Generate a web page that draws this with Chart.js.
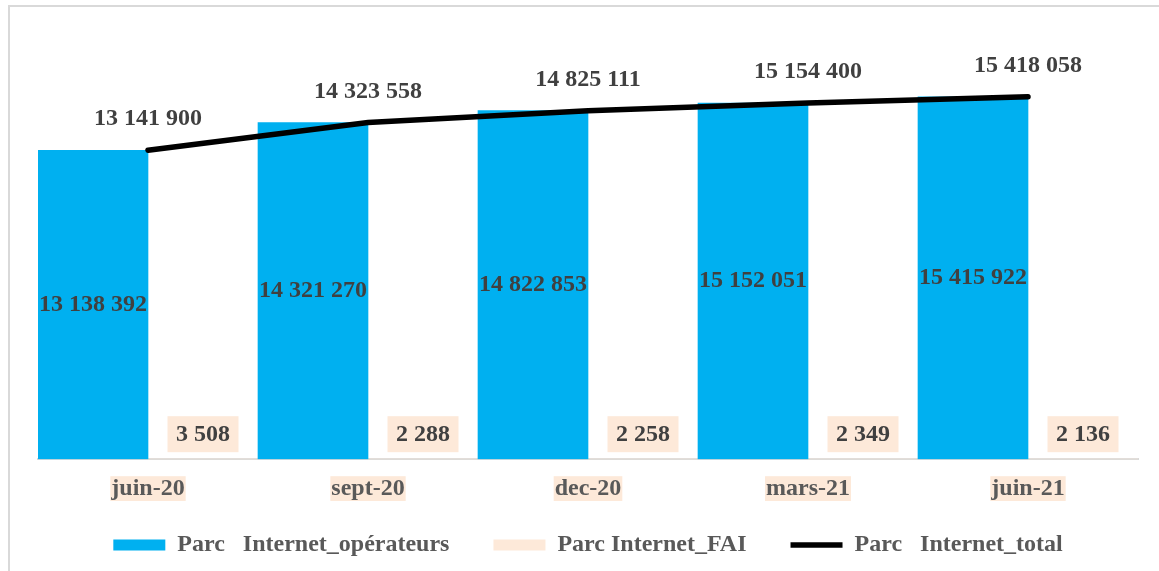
<!DOCTYPE html>
<html lang="fr">
<head>
  <meta charset="UTF-8">
  <title>Parc Internet</title>
  <script src="https://cdn.jsdelivr.net/npm/chart.js"></script>
  <style>
    body {
      margin: 0;
      background: #fff;
      width: 1159px;
      height: 571px;
      overflow: hidden;
      position: relative;
    }
    .frame {
      position: absolute;
      left: 8px;
      top: 5px;
      width: 1160px;
      height: 600px;
      border: 2px solid #d9d9d9;
    }
    canvas {
      position: absolute;
      left: 0;
      top: 0;
    }
  </style>
</head>
<body>
  <div class="frame"></div>
  <canvas id="chart" width="1159" height="571"></canvas>

  <script>
    // Data
    const categories = ['juin-20', 'sept-20', 'dec-20', 'mars-21', 'juin-21'];
    const operateurs = [13138392, 14321270, 14822853, 15152051, 15415922];
    const fai = [3508, 2288, 2258, 2349, 2136];
    const total = [13141900, 14323558, 14825111, 15154400, 15418058];

    const BLUE = '#00b0f0';
    const PEACH = '#fde9d9';
    const FONT = "'Liberation Serif', 'Times New Roman', serif";

    function fmt(v) {
      return String(v).replace(/\B(?=(\d{3})+(?!\d))/g, ' ');
    }

    // draws the value labels (no datalabels plugin available)
    const valueLabels = {
      id: 'valueLabels',
      afterDatasetsDraw(chart) {
        const ctx = chart.ctx;
        ctx.save();
        ctx.font = 'bold 24px ' + FONT;
        ctx.fillStyle = '#404040';
        ctx.textAlign = 'center';
        ctx.textBaseline = 'middle';

        chart.getDatasetMeta(0).data.forEach((el, i) => {
          ctx.fillText(fmt(operateurs[i]), el.x, (el.y + el.base) / 2);
        });

        chart.getDatasetMeta(1).data.forEach((el, i) => {
          const txt = fmt(fai[i]);
          const w = ctx.measureText(txt).width + 17;
          const y = el.base - 25;
          ctx.fillStyle = PEACH;
          ctx.fillRect(el.x - w / 2, y - 18, w, 36);
          ctx.fillStyle = '#404040';
          ctx.fillText(txt, el.x, y + 1);
        });

        chart.getDatasetMeta(2).data.forEach((el, i) => {
          ctx.fillText(fmt(total[i]), el.x, el.y - 31);
        });
        ctx.restore();
      }
    };

    new Chart(document.getElementById('chart'), {
      type: 'bar',
      data: {
        labels: categories,
        datasets: [
          {
            label: 'Parc   Internet_opérateurs',
            data: operateurs,
            backgroundColor: BLUE,
            borderWidth: 0,
            pointStyle: 'rect',
            order: 2
          },
          {
            label: 'Parc Internet_FAI',
            data: fai,
            backgroundColor: PEACH,
            borderWidth: 0,
            pointStyle: 'rect',
            order: 2
          },
          {
            type: 'line',
            label: 'Parc   Internet_total',
            data: total,
            borderColor: '#000',
            backgroundColor: '#000',
            borderWidth: 5.5,
            borderCapStyle: 'round',
            pointRadius: 0,
            pointHoverRadius: 0,
            pointStyle: 'line',
            tension: 0,
            order: 1
          }
        ]
      },
      options: {
        responsive: false,
        animation: false,
        datasets: {
          bar: { categoryPercentage: 1, barPercentage: 1 }
        },
        layout: {
          padding: { left: 38, right: 21, top: 36, bottom: 4 }
        },
        plugins: {
          tooltip: { enabled: false },
          legend: {
            position: 'bottom',
            labels: {
              usePointStyle: true,
              pointStyleWidth: 52,
              boxHeight: 11,
              padding: 44,
              color: '#595959',
              font: { family: FONT, size: 24, weight: 'bold' },
              sort: (a, b) => a.datasetIndex - b.datasetIndex
            }
          }
        },
        scales: {
          x: {
            grid: { display: false, drawTicks: false },
            border: { display: true, color: '#d9d9d9', width: 2 },
            ticks: {
              color: '#595959',
              padding: 15,
              font: { family: FONT, size: 24, weight: 'bold' },
              showLabelBackdrop: true,
              backdropColor: PEACH,
              backdropPadding: { top: -2, bottom: -2, left: 1, right: 1 }
            },
            afterFit(scale) {
              // legend is tall because of its wide item padding; let the axis overlap it
              scale.height -= 29;
              scale._computeLabelArea = () => undefined;
            }
          },
          y: {
            display: false,
            min: 0,
            max: 18000000
          }
        }
      },
      plugins: [valueLabels]
    });
  </script>
</body>
</html>
